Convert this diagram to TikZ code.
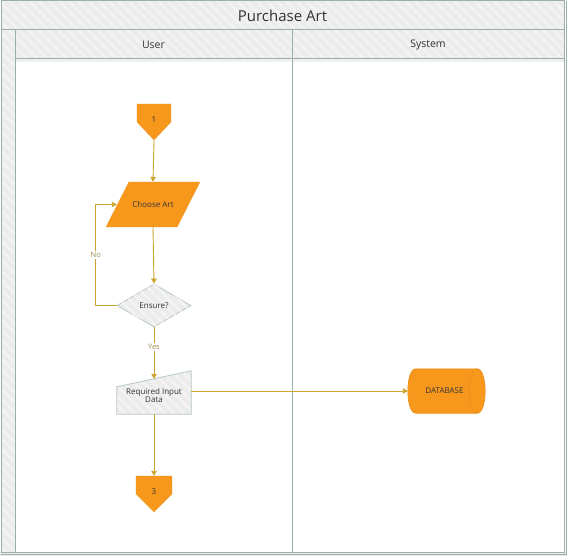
\documentclass[tikz,border=0pt]{standalone}
\usepackage{fontspec}
\setmainfont{Open Sans}
\usetikzlibrary{arrows.meta,shapes.geometric,patterns.meta,calc,backgrounds}
\definecolor{frame}{HTML}{9AAFA8}
\definecolor{band}{HTML}{ECECEC}
\definecolor{stripe}{HTML}{F3F3F3}
\definecolor{orng}{HTML}{F7981D}
\definecolor{orngd}{HTML}{EE9018}
\definecolor{gold}{HTML}{CDA42E}
\definecolor{boxfill}{HTML}{ECECEC}
\definecolor{boxline}{HTML}{B8C9C2}
\definecolor{txt}{HTML}{333333}
\definecolor{lbl}{HTML}{9E8C55}
\pgfdeclarelayer{bottom}
\pgfsetlayers{bottom,background,main}
\tikzset{
  stripes/.style={pattern={Lines[angle=-45,distance=7pt,line width=2.5pt]},pattern color=stripe},
  shapebox/.style={inner sep=0pt,font=\fontsize{8}{9.5}\selectfont,text=txt,align=center},
  conn/.style={draw=gold,line width=0.9pt,-{Triangle[width=5.5pt,length=5pt]}},
  lab/.style={fill=white,inner sep=1.5pt,text=lbl,font=\fontsize{7.5}{9}\selectfont},
  shade/.style={fill=black,opacity=0.13},
}
\begin{document}
\begin{tikzpicture}[x=1pt,y=-1pt]
\useasboundingbox (0,0) rectangle (567,556);
\begin{pgfonlayer}{bottom}
  \fill[white] (0,0) rectangle (567,556);
  \fill[band] (1,1) rectangle (564,30);
  \fill[stripes] (1,1) rectangle (564,30);
  \fill[band] (1,30) rectangle (15,552);
  \fill[stripes] (1,30) rectangle (15,552);
  \fill[band] (15,30) rectangle (564,59);
  \fill[stripes] (15,30) rectangle (564,59);
  \fill[band] (0,552) rectangle (567,556);
  \fill[black,opacity=0.06] (15,59) rectangle (564,62);
  \draw[frame,line width=1pt] (1,1) rectangle (564,552);
  \draw[frame,line width=1pt] (1,30) -- (564,30);
  \draw[frame,line width=1pt] (15,30) -- (15,552);
  \draw[frame,line width=1pt] (15,59) -- (564,59);
  \draw[frame,line width=1pt] (292,30) -- (292,552);
  \draw[frame,line width=0.6pt] (566,1) -- (566,554) -- (1,554);
\end{pgfonlayer}

% headers
\node[text=txt,font=\fontsize{15}{17}\selectfont] (title) at (282.5,15.5) {Purchase Art};
\node[text=txt,font=\fontsize{10.5}{12}\selectfont] (user) at (153.5,44.5) {User};
\node[text=txt,font=\fontsize{10.5}{12}\selectfont] (system) at (428,44.5) {System};

% shapes
\node[shapebox,minimum width=34,minimum height=36] (c1) at (154,122) {\raisebox{5pt}{1}};
\node[shapebox,minimum width=94,minimum height=45] (choose) at (153,204.5) {Choose Art};
\node[shapebox,diamond,aspect=1.72,minimum width=74,minimum height=43,fill=boxfill,draw=boxline,line width=0.8pt,
      postaction={stripes}] (ensure) at (154,305.5) {Ensure?};
\node[shapebox,minimum width=74,minimum height=35] (req) at (154,396.5) {\raisebox{-4.5pt}{\begin{tabular}{@{}c@{}}Required Input\\[-1pt]Data\end{tabular}}};
\node[shapebox,minimum width=77,minimum height=44] (db) at (446.5,391) {\hspace*{-4pt}DATABASE};
\node[shapebox,minimum width=36,minimum height=36] (c3) at (154,494) {\raisebox{5pt}{3}};

\begin{pgfonlayer}{background}
  % off-page 1
  \fill[shade,shift={(1.5,2)}] (c1.north west) -- (c1.north east) -- (c1.east) -- (c1.south) -- (c1.west) -- cycle;
  \fill[orng] (c1.north west) -- (c1.north east) -- (c1.east) -- (c1.south) -- (c1.west) -- cycle;
  % choose art
  \fill[shade,shift={(1.5,2)}] ($(choose.north west)+(23,0)$) -- (choose.north east) -- ($(choose.south east)+(-23,0)$) -- (choose.south west) -- cycle;
  \fill[orng] ($(choose.north west)+(23,0)$) -- (choose.north east) -- ($(choose.south east)+(-23,0)$) -- (choose.south west) -- cycle;
  % manual input
  \fill[shade,shift={(1.5,2)}] ($(req.north west)+(0,8)$) -- ($(req.north east)+(0,-8)$) -- (req.south east) -- (req.south west) -- cycle;
  \fill[boxfill] ($(req.north west)+(0,8)$) -- ($(req.north east)+(0,-8)$) -- (req.south east) -- (req.south west) -- cycle;
  \fill[stripes] ($(req.north west)+(0,8)$) -- ($(req.north east)+(0,-8)$) -- (req.south east) -- (req.south west) -- cycle;
  \draw[boxline,line width=0.8pt] ($(req.north west)+(0,8)$) -- ($(req.north east)+(0,-8)$) -- (req.south east) -- (req.south west) -- cycle;
  % database
  \fill[shade,shift={(1.5,2)}] ($(db.north west)+(8,0)$) -- ($(db.north east)+(-8,0)$)
     .. controls ($(db.north east)+(2.67,0)$) and ($(db.south east)+(2.67,0)$) .. ($(db.south east)+(-8,0)$)
     -- ($(db.south west)+(8,0)$)
     .. controls ($(db.south west)+(-2.67,0)$) and ($(db.north west)+(-2.67,0)$) .. cycle;
  \filldraw[fill=orng,draw=orngd,line width=0.6pt] ($(db.north west)+(8,0)$) -- ($(db.north east)+(-8,0)$)
     .. controls ($(db.north east)+(2.67,0)$) and ($(db.south east)+(2.67,0)$) .. ($(db.south east)+(-8,0)$)
     -- ($(db.south west)+(8,0)$)
     .. controls ($(db.south west)+(-2.67,0)$) and ($(db.north west)+(-2.67,0)$) .. cycle;
  \draw[orngd,line width=0.6pt] ($(db.north east)+(-8,0)$)
     .. controls ($(db.north east)+(-18.67,0)$) and ($(db.south east)+(-18.67,0)$) .. ($(db.south east)+(-8,0)$);
  % off-page 3
  \fill[shade,shift={(1.5,2)}] (c3.north west) -- (c3.north east) -- (c3.east) -- (c3.south) -- (c3.west) -- cycle;
  \fill[orng] (c3.north west) -- (c3.north east) -- (c3.east) -- (c3.south) -- (c3.west) -- cycle;
\end{pgfonlayer}

% connectors
\draw[conn] (c1.south) -- (choose.north);
\draw[conn] (choose.south) -- (ensure.north);
\draw[conn] (ensure.west) -| ($(choose.west)+(-10,0)$) node[lab,pos=0.75] {No} -- ($(choose.west)+(11,0)$);
\draw[conn] (ensure.south) -- node[lab,pos=0.38] {Yes} (req.north);
\draw[conn] (req.east |- db.west) -- (db.west);
\draw[conn] (req.south) -- (c3.north);
\end{tikzpicture}
\end{document}
